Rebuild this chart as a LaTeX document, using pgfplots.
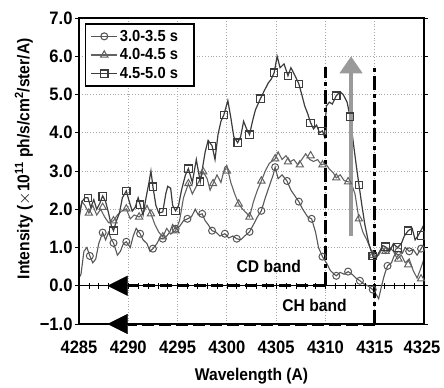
\documentclass[border=0pt]{standalone}
\usepackage{pgfplots}
\pgfplotsset{compat=1.18}
\usepackage{fontspec}
\setmainfont{Liberation Sans}[FakeStretch=0.92]
\usetikzlibrary{arrows.meta}
\definecolor{cS}{HTML}{3C3C3C}
\definecolor{cT}{HTML}{626262}
\definecolor{cC}{HTML}{565656}
\definecolor{arrgray}{HTML}{9A9A9A}
\definecolor{gridgray}{HTML}{A8A8A8}

\pgfplotstableread{
x y
4285.0 1.75
4285.3 2.2
4285.6 2.3
4285.9 2.3
4286.2 2.05
4286.5 2.25
4286.8 2.0
4287.1 2.15
4287.4 2.35
4287.7 2.2
4288.0 1.9
4288.3 1.55
4288.5 1.44
4288.8 1.7
4289.1 1.9
4289.4 2.3
4289.8 2.48
4290.1 2.2
4290.4 1.95
4290.7 2.05
4291.0 2.3
4291.2 2.12
4291.5 1.85
4291.8 2.3
4292.1 2.7
4292.3 3.0
4292.5 2.59
4292.8 2.1
4293.1 1.9
4293.5 1.93
4293.8 2.4
4294.0 2.6
4294.3 2.55
4294.5 2.1
4294.8 1.96
4295.1 2.1
4295.4 2.5
4295.8 2.9
4296.1 3.06
4296.5 2.7
4296.9 3.3
4297.3 2.72
4297.8 3.5
4298.1 3.8
4298.5 3.66
4298.8 3.3
4299.1 3.95
4299.4 4.3
4299.7 4.47
4300.1 4.84
4300.4 4.4
4300.7 3.9
4301.1 3.74
4301.4 3.9
4301.7 4.3
4302.0 4.1
4302.3 3.95
4302.6 4.3
4302.9 4.6
4303.4 4.89
4303.8 5.1
4304.2 5.3
4304.5 5.4
4304.8 5.57
4305.1 6.0
4305.4 5.7
4305.8 5.8
4306.2 5.49
4306.5 5.7
4306.9 5.5
4307.3 5.28
4307.6 5.0
4307.9 4.7
4308.2 4.5
4308.5 4.26
4308.8 4.1
4309.1 4.2
4309.4 4.0
4309.7 4.05
4309.9 3.9
4310.1 4.7
4310.4 4.8
4310.7 4.75
4311.1 4.97
4311.5 5.07
4311.8 5.0
4312.2 4.8
4312.5 4.42
4312.8 3.8
4313.1 3.2
4313.4 2.64
4313.7 2.1
4314.0 1.6
4314.4 1.1
4314.8 0.78
4315.1 0.7
4315.5 0.9
4315.8 1.05
4316.1 1.02
4316.5 0.9
4316.9 1.1
4317.3 1.0
4317.7 1.1
4318.0 1.3
4318.4 1.44
4318.8 1.5
4319.1 1.2
4319.4 1.31
4319.7 1.45
4320.0 1.6
}\dataS

\pgfplotstableread{
x y
4285.9 2.3
4287.4 2.33
4288.5 1.44
4289.8 2.48
4291.2 2.12
4292.5 2.59
4293.5 1.93
4294.8 1.96
4296.1 3.06
4297.3 2.72
4298.5 3.66
4299.7 4.47
4301.1 3.74
4302.3 3.95
4303.4 4.89
4304.8 5.57
4306.2 5.49
4307.3 5.28
4308.5 4.26
4309.7 4.05
4311.1 4.97
4312.5 4.42
4313.4 2.64
4314.8 0.78
4316.1 1.02
4317.3 1.0
4318.4 1.44
4319.7 1.31
}\markS

\pgfplotstableread{
x y
4285.0 1.9
4285.3 2.2
4285.6 2.1
4286.0 1.9
4286.4 2.1
4286.8 1.85
4287.2 2.0
4287.6 1.8
4288.0 1.65
4288.5 1.7
4288.9 1.85
4289.3 1.95
4289.8 2.01
4290.2 1.75
4290.6 1.85
4291.1 1.8
4291.5 1.9
4291.9 2.1
4292.3 1.88
4292.7 1.6
4293.1 1.4
4293.5 1.28
4293.9 1.5
4294.3 1.35
4294.8 1.44
4295.2 1.7
4295.6 2.3
4296.1 2.67
4296.5 2.4
4296.9 2.6
4297.3 2.8
4297.6 2.98
4298.0 2.8
4298.3 2.5
4298.6 2.67
4299.0 2.9
4299.4 2.7
4299.8 3.1
4300.0 3.14
4300.4 2.7
4300.8 2.4
4301.2 2.14
4301.6 2.0
4302.0 1.9
4302.3 1.8
4302.7 2.2
4303.1 2.5
4303.5 2.74
4303.9 3.0
4304.3 3.2
4304.9 3.32
4305.2 3.5
4305.6 3.3
4306.0 3.4
4306.4 3.24
4306.8 3.3
4307.2 3.16
4307.6 3.3
4308.0 3.45
4308.4 3.3
4308.8 3.25
4309.2 3.3
4309.6 3.16
4310.0 3.2
4310.4 3.05
4310.8 2.95
4311.1 2.82
4311.5 2.9
4311.9 2.75
4312.3 2.72
4312.6 2.7
4313.0 2.4
4313.4 1.75
4313.8 1.4
4314.2 1.2
4314.6 0.95
4315.0 0.75
4315.4 0.8
4315.8 1.0
4316.1 0.85
4316.5 1.0
4316.9 0.9
4317.3 0.7
4317.7 0.8
4318.1 0.6
4318.5 0.7
4318.9 0.4
4319.3 0.2
4319.6 0.4
4320.0 0.7
}\dataT

\pgfplotstableread{
x y
4286.0 1.9
4287.4 2.05
4288.5 1.7
4289.8 2.01
4291.1 1.8
4292.3 1.88
4293.5 1.28
4294.8 1.44
4296.1 2.67
4297.6 2.98
4298.6 2.67
4300.0 3.0
4301.2 2.14
4302.3 1.8
4303.5 2.74
4304.9 3.32
4306.2 3.24
4307.4 3.16
4308.5 3.4
4309.7 3.16
4311.1 2.82
4312.3 2.72
4313.4 1.75
4314.8 0.8
4316.1 0.9
4317.4 0.7
4318.4 0.55
4319.7 0.18
}\markT

\pgfplotstableread{
x y
4285.0 0.2
4285.2 0.3
4285.5 0.9
4285.8 1.0
4286.1 0.78
4286.4 0.6
4286.7 0.7
4287.0 1.1
4287.4 1.39
4287.7 1.2
4288.0 1.4
4288.3 1.2
4288.5 1.12
4288.9 0.8
4289.2 0.9
4289.5 1.1
4289.8 1.15
4290.2 1.0
4290.5 1.3
4290.8 1.5
4291.2 1.36
4291.5 1.2
4291.9 1.1
4292.2 0.9
4292.5 0.97
4292.9 1.1
4293.2 1.25
4293.5 1.23
4293.9 1.3
4294.2 1.4
4294.5 1.6
4294.8 1.49
4295.2 1.55
4295.6 1.7
4296.0 1.75
4296.4 1.8
4296.8 2.0
4297.1 1.85
4297.5 1.88
4297.8 1.7
4298.1 1.6
4298.5 1.44
4298.9 1.4
4299.3 1.3
4299.8 1.36
4300.2 1.25
4300.6 1.3
4301.0 1.23
4301.4 1.2
4301.8 1.3
4302.3 1.41
4302.7 1.6
4303.1 1.8
4303.5 1.96
4303.9 2.3
4304.3 2.6
4304.7 2.9
4304.9 3.1
4305.2 2.8
4305.6 2.9
4306.1 2.74
4306.5 2.5
4306.9 2.35
4307.3 2.2
4307.7 2.0
4308.2 1.8
4308.6 1.75
4309.0 1.4
4309.3 1.0
4309.7 0.76
4310.1 0.6
4310.5 0.4
4310.9 0.3
4311.1 0.26
4311.5 0.35
4311.9 0.3
4312.3 0.37
4312.7 0.3
4313.1 0.2
4313.5 0.13
4313.9 0.05
4314.3 0.0
4314.8 -0.1
4315.2 -0.25
4315.4 -0.34
4315.7 0.0
4316.0 0.3
4316.3 0.52
4316.7 0.6
4317.0 0.8
4317.4 0.9
4317.8 0.85
4318.1 1.0
4318.5 0.9
4318.9 0.95
4319.3 0.8
4319.7 0.97
4320.0 1.1
}\dataC

\pgfplotstableread{
x y
4286.1 0.78
4287.4 1.39
4288.5 1.12
4289.8 1.15
4291.2 1.36
4292.5 0.97
4293.5 1.23
4294.8 1.49
4296.0 1.75
4297.5 1.88
4298.5 1.44
4299.8 1.36
4301.0 1.23
4302.3 1.41
4303.5 1.96
4304.9 3.1
4306.1 2.74
4307.3 2.2
4308.6 1.75
4309.7 0.76
4311.1 0.26
4312.3 0.37
4313.5 0.13
4314.8 -0.1
4316.3 0.52
4317.4 0.9
4318.5 0.9
4319.7 0.97
}\markC

\pgfplotstableread{
x y
4285 0
4286 0
4287 0
4288 0
4289 0
4290 0
4291 0
4292 0
4293 0
4294 0
4295 0
4296 0
4297 0
4298 0
4299 0
4300 0
4301 0
4302 0
4303 0
4304 0
4305 0
4306 0
4307 0
4308 0
4309 0
4310 0
4311 0
4312 0
4313 0
4314 0
4315 0
4316 0
4317 0
4318 0
4319 0
}\zeroticks

\begin{document}
\begin{tikzpicture}
\begin{axis}[
  width=345pt, height=306pt, scale only axis, clip=false,
  xmin=4285, xmax=4320, ymin=-1, ymax=7,
  axis line style={line width=2pt, black},
  xtick={4290,4295,4300,4305,4310,4315},
  xticklabels={4290,4295,4300,4305,4310,4315},
  extra x ticks={4285,4319.8},
  extra x tick labels={4285,4325},
  extra x tick style={grid=none},
  ytick={-1,0,...,7},
  yticklabels={−1.0,0.0,1.0,2.0,3.0,4.0,5.0,6.0,7.0},
  x tick style={draw=none},
  y tick style={black, line width=0.8pt},
  tick align=outside, major tick length=4pt,
  /pgf/number format/assume math mode=true,
  ticklabel style={font=\fontsize{18}{20}\selectfont\bfseries},
  xticklabel style={anchor=center, yshift=-19pt},
  yticklabel style={anchor=east, xshift=1pt},
  grid=major,
  major grid style={gridgray, line width=0.8pt, dotted},
  xlabel={Wavelength (A)},
  ylabel={Intensity ($\times$10\textsuperscript{11} ph/s/cm\textsuperscript{2}/ster/A)},
  label style={font=\fontsize{17}{19}\selectfont\bfseries},
  xlabel style={at={(axis description cs:0.5,0)}, anchor=center, yshift=-52pt},
  ylabel style={at={(axis description cs:-0.16,0.54)}, anchor=center},
  legend style={at={(0.017,0.983)}, anchor=north west, draw=black, line width=1.6pt,
    font=\fontsize{16}{17}\selectfont\bfseries, inner xsep=5pt, inner ysep=4pt, row sep=2pt,
    cells={anchor=west}},
  legend cell align=left,
  legend image code/.code={\draw[mark repeat=2,mark phase=2] plot coordinates {(0pt,0pt) (13pt,0pt) (26pt,0pt)};},
]
% zero line with ticks
\addplot[black, line width=0.7pt, forget plot] coordinates {(4285,0) (4320,0)};
\addplot[only marks, mark=|, mark size=3pt, black, line width=0.7pt, forget plot] table {\zeroticks};

% series
\addplot[cC, line width=1.1pt, no marks, forget plot] table {\dataC};
\addplot[cC, only marks, mark=o, mark size=3.5pt, line width=1pt, forget plot] table {\markC};
\addplot[cT, line width=1.1pt, no marks, forget plot] table {\dataT};
\addplot[cT, only marks, mark=triangle, mark size=4.2pt, line width=1pt, forget plot] table {\markT};
\addplot[cS, line width=1.2pt, no marks, forget plot] table {\dataS};
\addplot[cS, only marks, mark=square, mark size=3.7pt, line width=1.1pt, forget plot] table {\markS};

% band markers
\addplot[black, line width=3pt, dash pattern=on 12pt off 5pt, forget plot] coordinates {(4310,0) (4290,0)};
\addplot[black, line width=0.1pt, -{Triangle[length=20pt,width=20pt]}, forget plot] coordinates {(4290.2,0) (4287.9,0)};
\addplot[black, line width=3pt, dash pattern=on 12pt off 5pt, forget plot] coordinates {(4315,-1) (4290,-1)};
\addplot[black, line width=0.1pt, -{Triangle[length=20pt,width=20pt]}, forget plot] coordinates {(4290.2,-1) (4287.9,-1)};
\addplot[black, line width=3pt, dash pattern=on 14pt off 4pt on 4pt off 4pt, forget plot] coordinates {(4310,0) (4310,5.72)};
\addplot[black, line width=3pt, dash pattern=on 14pt off 4pt on 4pt off 4pt, forget plot] coordinates {(4315,-1) (4315,5.72)};
\addplot[arrgray, line width=4.5pt, -{Triangle[length=17pt,width=22pt]}, forget plot] coordinates {(4312.6,1.3) (4312.6,6.0)};

\node[font=\fontsize{17}{19}\selectfont\bfseries] at (axis cs:4304.25,0.5) {CD band};
\node[font=\fontsize{17}{19}\selectfont\bfseries] at (axis cs:4308.9,-0.52) {CH band};

% frame
\draw[black, line width=2pt] (rel axis cs:0,0) rectangle (rel axis cs:1,1);

\addlegendimage{cC, line width=1.1pt, mark=o, mark size=3.5pt}
\addlegendentry{3.0-3.5 s\hspace*{9pt}}
\addlegendimage{cT, line width=1.1pt, mark=triangle, mark size=4.2pt}
\addlegendentry{4.0-4.5 s\hspace*{9pt}}
\addlegendimage{cS, line width=1.2pt, mark=square, mark size=3.7pt}
\addlegendentry{4.5-5.0 s\hspace*{9pt}}
\end{axis}
\path (current axis.south west) ++(-79pt,-61pt) rectangle ++(444pt,385pt);
\end{tikzpicture}
\end{document}
